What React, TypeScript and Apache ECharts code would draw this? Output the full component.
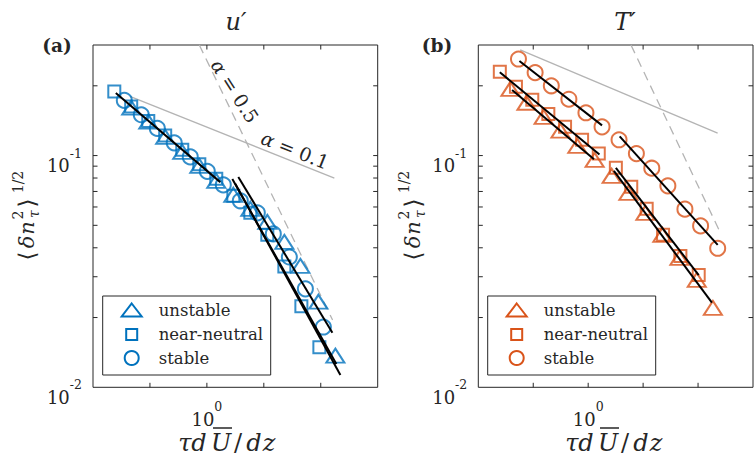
import React, { useEffect, useRef } from 'react';
import * as echarts from 'echarts';

const BLUE = '#0072BD';
const ORANGE = '#D95319';
const AXIS = '#262626';
const GRAY = '#b4b4b4';
const SERIF = 'DejaVu Serif';

const X_MIN = 0.25;
const X_MAX = 8;
const Y_MIN = 0.01;
const Y_MAX = 0.3;
const xTicks = [0.5, 1, 2, 4];
const yTicks = [0.02, 0.03, 0.04, 0.05, 0.06, 0.07, 0.08, 0.09, 0.1, 0.2];

const classNames = ['unstable', 'near-neutral', 'stable'];

// Panel (a): u'
const uUnstable = [[0.398, 0.161], [0.49, 0.14], [0.602, 0.1205], [0.741, 0.1037], [0.912, 0.0902], [1.121, 0.0778], [1.38, 0.0677], [1.697, 0.0589], [2.087, 0.0517], [2.568, 0.0424], [3.121, 0.0334], [3.886, 0.0234], [4.779, 0.0137]];
const uNear = [[0.324, 0.189], [0.398, 0.163], [0.49, 0.141], [0.602, 0.122], [0.741, 0.106], [0.912, 0.0917], [1.121, 0.0794], [1.38, 0.067], [1.697, 0.0566], [2.087, 0.0455], [2.568, 0.0332], [3.159, 0.0224], [3.933, 0.0149]];
const uStable = [[0.366, 0.173], [0.45, 0.15], [0.547, 0.131], [0.672, 0.1135], [0.817, 0.0987], [1.005, 0.0855], [1.221, 0.0747], [1.502, 0.0638], [1.848, 0.0566], [2.245, 0.0459], [2.729, 0.0365], [3.317, 0.0266], [4.129, 0.0182]];
const uFits = [
  [[0.33, 0.186], [1.177, 0.0768]],
  [[1.466, 0.0809], [4.608, 0.0172]],
  [[1.363, 0.0793], [4.837, 0.0126]],
  [[1.413, 0.0755], [5.08, 0.0113]],
];
const uRefSlow = [[0.392, 0.18], [4.72, 0.08]];
const uRefFast = [[0.912, 0.3], [4.62, 0.0195]];

// Panel (b): T'
const tUnstable = [[0.375, 0.194], [0.459, 0.169], [0.57, 0.147], [0.705, 0.128], [0.872, 0.11], [1.085, 0.0958], [1.345, 0.0818], [1.661, 0.069], [2.059, 0.0566], [2.55, 0.0455], [3.162, 0.0362], [3.936, 0.0291], [4.823, 0.022]];
const tNear = [[0.328, 0.23], [0.402, 0.198], [0.494, 0.174], [0.605, 0.151], [0.747, 0.133], [0.926, 0.117], [1.143, 0.102], [1.418, 0.0885], [1.722, 0.0733], [2.092, 0.0589], [2.572, 0.0455], [3.201, 0.0369], [4.033, 0.0305]];
const tStable = [[0.415, 0.261], [0.512, 0.228], [0.628, 0.2], [0.784, 0.175], [0.972, 0.153], [1.191, 0.133], [1.476, 0.117], [1.837, 0.102], [2.231, 0.0882], [2.733, 0.074], [3.389, 0.0587], [4.13, 0.0497], [5.124, 0.0398]];
const tFits = [
  [[0.42, 0.256], [1.191, 0.135]],
  [[1.488, 0.121], [5.124, 0.0412]],
  [[0.328, 0.229], [1.153, 0.101]],
  [[1.418, 0.0885], [4.033, 0.0305]],
  [[0.383, 0.192], [1.076, 0.0965]],
  [[1.383, 0.0859], [4.764, 0.0232]],
];
const tRefSlow = [[0.424, 0.286], [5.12, 0.125]];
const tRefFast = [[1.716, 0.3], [5.21, 0.0478]];

const panels = [
  { color: BLUE, title: 'u\u2032', tag: '(a)', sets: [uUnstable, uNear, uStable], fits: uFits, refSlow: uRefSlow, refFast: uRefFast },
  { color: ORANGE, title: 'T\u2032', tag: '(b)', sets: [tUnstable, tNear, tStable], fits: tFits, refSlow: tRefSlow, refFast: tRefFast },
];

const grids = [
  { left: 93, top: 45, width: 284.7, height: 342.3 },
  { left: 478.3, top: 45, width: 285, height: 342.3 },
];

const symbols = [
  { symbol: 'triangle', size: [18, 14] },
  { symbol: 'rect', size: [12, 12] },
  { symbol: 'circle', size: [15, 15] },
];

function isPow10(v: number) {
  const e = Math.log10(v);
  return Math.abs(e - Math.round(e)) < 1e-6;
}
function powLabel(v: number) {
  if (!isPow10(v)) return '';
  return `{s|}{b|10}{e|${Math.round(Math.log10(v))}}`;
}
const rich = {
  b: { fontFamily: SERIF, fontSize: 18, color: AXIS, lineHeight: 28, verticalAlign: 'bottom' },
  e: { fontFamily: SERIF, fontSize: 12.5, color: AXIS, lineHeight: 14, verticalAlign: 'top' },
  s: { lineHeight: 28 },
};

function tickLine(x1: number, y1: number, x2: number, y2: number) {
  return { type: 'line', shape: { x1, y1, x2, y2 }, style: { stroke: AXIS, lineWidth: 1 } };
}
function renderYTick(params: any, api: any) {
  const cs = params.coordSys;
  const y = api.coord([api.value(0), api.value(1)])[1];
  return { type: 'group', children: [tickLine(cs.x, y, cs.x + 4.5, y), tickLine(cs.x + cs.width - 4.5, y, cs.x + cs.width, y)] };
}
function renderXTick(params: any, api: any) {
  const cs = params.coordSys;
  const x = api.coord([api.value(0), api.value(1)])[0];
  return { type: 'group', children: [tickLine(x, cs.y + cs.height, x, cs.y + cs.height - 4.5), tickLine(x, cs.y, x, cs.y + 4.5)] };
}

function txt(x: number, y: number, text: string, size: number, extra: any = {}) {
  return {
    type: 'text', x, y, silent: true,
    style: { text, fontFamily: SERIF, fontSize: size, fill: AXIS, align: 'center', verticalAlign: 'middle', ...extra },
  };
}

function yTitle(cx: number) {
  const it = { fontStyle: 'italic' };
  return {
    type: 'group', x: cx, y: 262, rotation: Math.PI / 2,
    children: [
      txt(6, 0, '\u27E8', 23),
      txt(20, 0, '\u03B4', 21, it),
      txt(34, 0, 'n', 21, it),
      txt(47, -9, '2', 14),
      txt(48, 7, '\u03C4', 14, it),
      txt(59, 0, '\u27E9', 23),
      txt(80, -9, '1/2', 14),
    ],
  };
}

function xTitle(dx: number) {
  const it = { fontStyle: 'italic' };
  return {
    type: 'group', x: dx, y: 0,
    children: [
      txt(185, 443, '\u03C4', 24, it),
      txt(199, 443, 'd', 24, it),
      txt(221, 443, 'U', 24, it),
      { type: 'line', silent: true, shape: { x1: 213, y1: 428, x2: 232, y2: 428 }, style: { stroke: AXIS, lineWidth: 1.5 } },
      txt(238, 443, '/', 24),
      txt(254, 443, 'd', 24, it),
      txt(269, 443, 'z', 24, it),
    ],
  };
}

function legend(left: number, color: string) {
  const top = 296;
  const rows = [310, 334.5, 358];
  const mx = left + 29;
  const tx = left + 56;
  const st = { fill: 'none', stroke: color, lineWidth: 2 };
  const children: any[] = [
    { type: 'rect', shape: { x: left, y: top, width: 168, height: 79 }, style: { fill: '#fff', stroke: AXIS, lineWidth: 1 } },
    { type: 'polygon', shape: { points: [[mx, rows[0] - 6.5], [mx + 10, rows[0] + 6.5], [mx - 10, rows[0] + 6.5]] }, style: st },
    { type: 'rect', shape: { x: mx - 5.5, y: rows[1] - 5.5, width: 11, height: 11 }, style: st },
    { type: 'circle', shape: { cx: mx, cy: rows[2], r: 7 }, style: st },
  ];
  classNames.forEach((n, i) => children.push(txt(tx, rows[i], n, 16.5, { align: 'left' })));
  return { type: 'group', z: 100, silent: true, children };
}

function alphaNote(x: number, y: number, rot: number, text: string) {
  return {
    type: 'text', x, y, rotation: rot, silent: true,
    style: {
      text, align: 'center', verticalAlign: 'middle', fontFamily: SERIF, fontSize: 19, fill: AXIS,
      rich: { i: { fontStyle: 'italic', fontFamily: SERIF, fontSize: 19, fill: AXIS } },
    },
  };
}

function App() {
  const ref = useRef<HTMLDivElement>(null);
  useEffect(() => {
    const chart = echarts.init(ref.current!, null, { renderer: 'svg' });
    const series: any[] = [];
    panels.forEach((p, i) => {
      const axes = { xAxisIndex: i, yAxisIndex: i };
      series.push({ type: 'line', ...axes, data: p.refSlow, symbol: 'none', silent: true, z: 2, lineStyle: { color: GRAY, width: 1.3 } });
      series.push({ type: 'line', ...axes, data: p.refFast, symbol: 'none', silent: true, z: 2, lineStyle: { color: GRAY, width: 1.3, type: [9, 6] } });
      p.sets.forEach((d, k) => {
        series.push({
          type: 'scatter', name: classNames[k], ...axes, data: d,
          symbol: symbols[k].symbol, symbolSize: symbols[k].size, silent: true, z: 3,
          itemStyle: { color: 'rgba(0,0,0,0)', borderColor: p.color, borderWidth: 2 },
        });
      });
      p.fits.forEach((f) => {
        series.push({ type: 'line', ...axes, data: f, symbol: 'none', silent: true, z: 4, lineStyle: { color: '#000', width: 2 } });
      });
      series.push({ type: 'custom', ...axes, data: yTicks.map((v) => [X_MIN, v]), renderItem: renderYTick, silent: true, z: 5 });
      series.push({ type: 'custom', ...axes, data: xTicks.map((v) => [v, Y_MIN]), renderItem: renderXTick, silent: true, z: 5 });
    });

    const option: any = {
      animation: false,
      backgroundColor: '#fff',
      textStyle: { fontFamily: SERIF },
      grid: grids.map((g) => ({ ...g, show: true, borderColor: AXIS, borderWidth: 1, backgroundColor: 'transparent' })),
      xAxis: grids.map((_, i) => ({
        type: 'log', logBase: 10, gridIndex: i, min: X_MIN, max: X_MAX,
        axisLine: { show: false }, axisTick: { show: false }, splitLine: { show: false },
        axisLabel: { margin: 12.7, formatter: powLabel, rich, color: AXIS, fontFamily: SERIF, hideOverlap: false },
      })),
      yAxis: grids.map((_, i) => ({
        type: 'log', logBase: 10, gridIndex: i, min: Y_MIN, max: Y_MAX,
        axisLine: { show: false }, axisTick: { show: false }, splitLine: { show: false },
        axisLabel: { margin: 11, formatter: powLabel, rich, color: AXIS, fontFamily: SERIF, padding: [10, 0, 0, 0], hideOverlap: false },
      })),
      series,
      graphic: [
        txt(236, 22, panels[0].title, 24, { fontStyle: 'italic' }),
        txt(625, 22, panels[1].title, 24, { fontStyle: 'italic' }),
        txt(57, 45, panels[0].tag, 18.5, { fontWeight: 'bold' }),
        txt(437, 45, panels[1].tag, 18.5, { fontWeight: 'bold' }),
        yTitle(27),
        yTitle(413),
        xTitle(0),
        xTitle(387),
        alphaNote(235, 91, -1.0, '{i|\u03B1} = 0.5'),
        alphaNote(295, 150, -0.38, '{i|\u03B1} = 0.1'),
        legend(102.7, BLUE),
        legend(487.7, ORANGE),
      ],
    };
    chart.setOption(option);
    return () => chart.dispose();
  }, []);
  return <div ref={ref} style={{ position: 'fixed', left: 0, top: 0, width: 756, height: 464, background: '#fff' }} />;
}

export default App;
